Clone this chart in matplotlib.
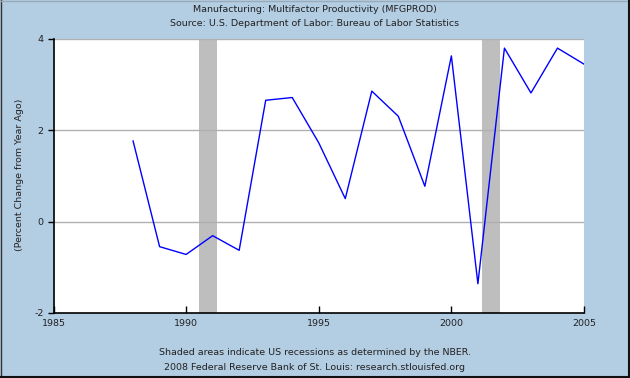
import matplotlib
matplotlib.use("Agg")
import matplotlib.pyplot as plt
from matplotlib.lines import Line2D

years = [1988, 1989, 1990, 1991, 1992, 1993, 1994, 1995, 1996, 1997,
         1998, 1999, 2000, 2001, 2002, 2003, 2004, 2005]
values = [1.76, -0.55, -0.72, -0.31, -0.63, 2.65, 2.71, 1.72, 0.50, 2.85,
          2.30, 0.77, 3.62, -1.36, 3.79, 2.81, 3.79, 3.44]
recessions = [(1990.5, 1991.17), (2001.17, 2001.84)]
xticks = [1985, 1990, 1995, 2000, 2005]
yticks = [-2, 0, 2, 4]

title1 = "Manufacturing: Multifactor Productivity (MFGPROD)"
title2 = "Source: U.S. Department of Labor: Bureau of Labor Statistics"
foot1 = "Shaded areas indicate US recessions as determined by the NBER."
foot2 = "2008 Federal Reserve Bank of St. Louis: research.stlouisfed.org"
ylabel = "(Percent Change from Year Ago)"

bg = "#b3cde3"
W, H = 630, 378
fig = plt.figure(figsize=(W / 100, H / 100), dpi=100, facecolor=bg)
plt.rcParams['font.family'] = ['DejaVu Sans']
fs = 6.8
tc = "#222222"

ax = fig.add_axes([53.5 / W, 1 - 313 / H, (584 - 53.5) / W, (313 - 38.5) / H])
ax.set_facecolor("white")
ax.set_xlim(1985, 2005)
ax.set_ylim(-2, 4)

for a, b in recessions:
    ax.axvspan(a, b, color="#bebebe", lw=0, zorder=1)
for y in [0, 2, 4]:
    ax.axhline(y, color="#b0b0b0", lw=1, zorder=1.5)

ax.plot(years, values, color="#0000ff", lw=1, zorder=3)

ax.set_xticks(xticks)
ax.set_xticklabels([str(t) for t in xticks], fontsize=fs, color=tc)
ax.set_yticks(yticks)
ax.set_yticklabels([str(t) for t in yticks], fontsize=fs, color=tc)
ax.tick_params(axis='x', direction='in', length=5, width=1, pad=4, color="black")
ax.tick_params(axis='y', direction='out', length=4, width=1, pad=3, color="black")
for s in ['top', 'right']:
    ax.spines[s].set_visible(False)
for s in ['left', 'bottom']:
    ax.spines[s].set_color("black")
    ax.spines[s].set_linewidth(1.2)

fig.text(0.5, 1 - 9.5 / H, title1, ha='center', va='center', fontsize=fs, color=tc)
fig.text(0.5, 1 - 23.5 / H, title2, ha='center', va='center', fontsize=fs, color=tc)
fig.text(0.5, 1 - 352.7 / H, foot1, ha='center', va='center', fontsize=fs, color=tc)
fig.text(0.5, 1 - 367.7 / H, foot2, ha='center', va='center', fontsize=fs, color=tc)
fig.text(20 / W, 1 - 175 / H, ylabel, ha='center', va='center', rotation=90, fontsize=fs, color=tc)

# figure border: light on top/left, dark on right/bottom
e = 0.5
fig.add_artist(Line2D([e / W, e / W], [0, 1], transform=fig.transFigure, color="#333333", lw=1))
fig.add_artist(Line2D([0, 1], [1 - e / H, 1 - e / H], transform=fig.transFigure, color="#9aaab8", lw=1))
fig.add_artist(Line2D([1 - 1 / W, 1 - 1 / W], [0, 1], transform=fig.transFigure, color="#111111", lw=1.5))
fig.add_artist(Line2D([0, 1], [1 / H, 1 / H], transform=fig.transFigure, color="#111111", lw=1.5))

fig.savefig("out.png", dpi=100, facecolor=bg)
